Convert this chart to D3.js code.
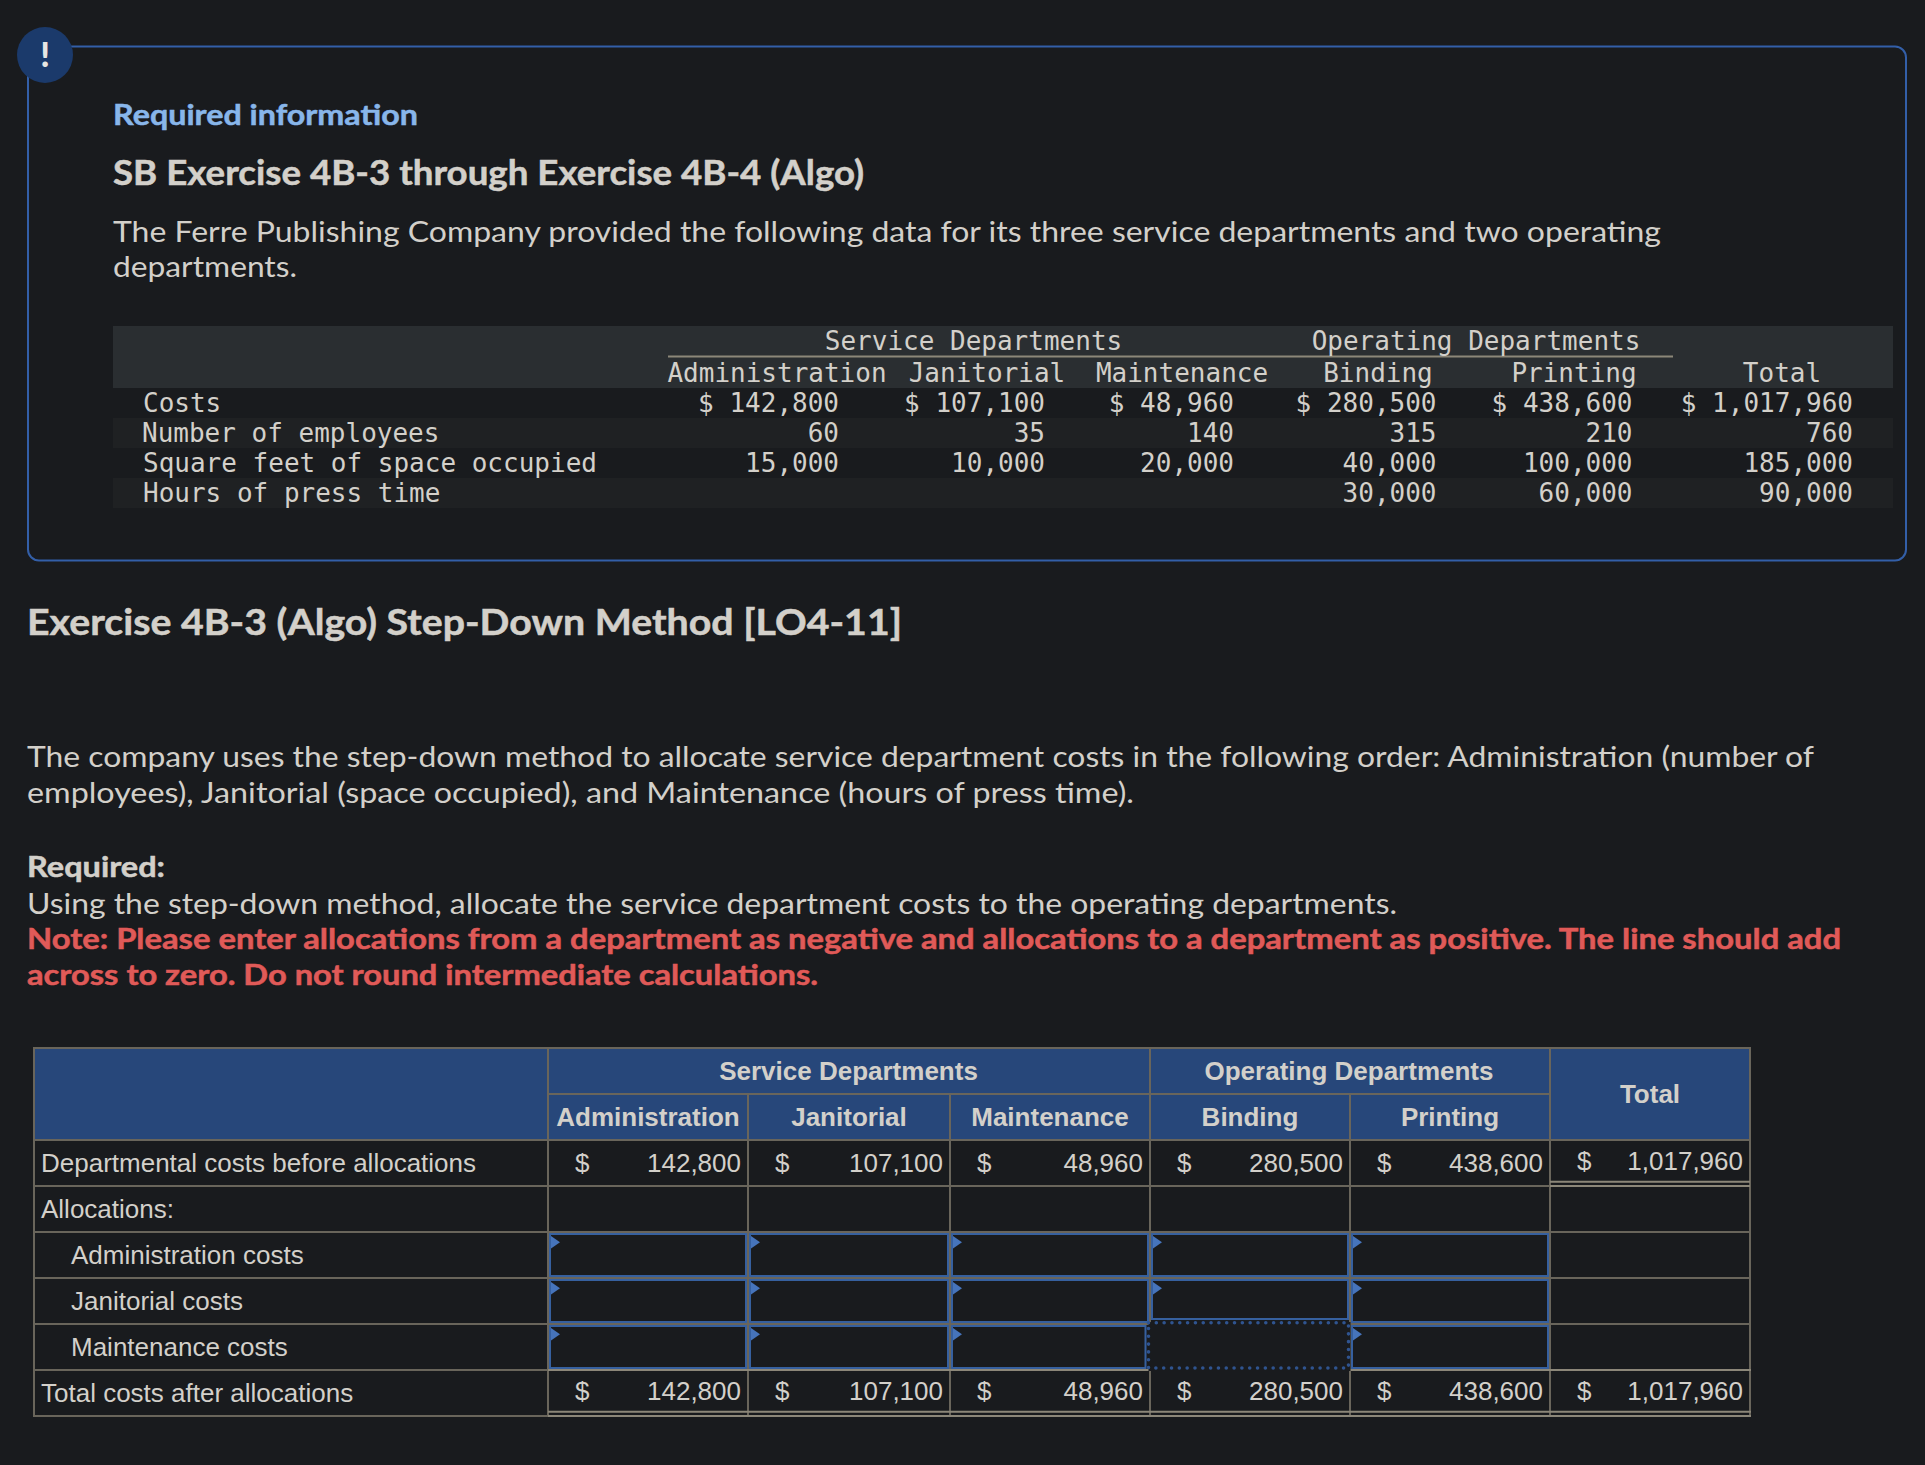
<!DOCTYPE html>
<html>
<head>
<meta charset="utf-8">
<script src="https://d3js.org/d3.v7.min.js"></script>
<style>
body { margin: 0; background: #191b1e; }
svg { display: block; }
</style>
</head>
<body>
<script>
// source table at the top of the page
var topRows = ["Costs", "Number of employees", "Square feet of space occupied", "Hours of press time"];
var topColumns = ["Administration", "Janitorial", "Maintenance", "Binding", "Printing", "Total"];
var costs = [142800, 107100, 48960, 280500, 438600, 1017960];
var employees = [60, 35, 140, 315, 210, 760];
var squareFeet = [15000, 10000, 20000, 40000, 100000, 185000];
var pressHours = [null, null, null, 30000, 60000, 90000];

// worksheet at the bottom of the page
var mainColumns = ["Administration", "Janitorial", "Maintenance", "Binding", "Printing", "Total"];
var mainRows = ["Departmental costs before allocations", "Allocations:", "Administration costs", "Janitorial costs", "Maintenance costs", "Total costs after allocations"];
var inputRows = ["Administration costs", "Janitorial costs", "Maintenance costs"];
var inputColumns = ["Administration", "Janitorial", "Maintenance", "Binding", "Printing"];
var costsAfter = [142800, 107100, 48960, 280500, 438600, 1017960];

var width = 1925, height = 1465;
var bg = "#191b1e", ink = "#d3d0ca", rule = "#69655b", ruleLight = "#8c8779", blue = "#36609f";
var sans = "Lato, sans-serif", mono = "'DejaVu Sans Mono', monospace", arial = "'Liberation Sans', Arial, sans-serif";
var fmt = d3.format(",");

var svg = d3.select("body").append("svg")
	.attr("width", width)
	.attr("height", height);

svg.append("rect").attr("width", width).attr("height", height).attr("fill", bg);

// fits a line of text to the width it has in the picture
function line(g, txt, x, y, size, fill, weight, font, w) {
	var t = g.append("text")
		.attr("x", x)
		.attr("y", y)
		.attr("fill", fill)
		.style("font-family", font)
		.style("font-size", size + "px")
		.style("font-weight", weight)
		.text(txt);
	if (w) t.attr("textLength", w).attr("lengthAdjust", "spacingAndGlyphs");
	// the original face is heavier than Lato Bold
	if (weight >= 700) t.attr("stroke", fill).attr("stroke-width", 0.5);
	return t;
}

// notice box
svg.append("rect")
	.attr("x", 28).attr("y", 46.5)
	.attr("width", 1878).attr("height", 514)
	.attr("rx", 11)
	.attr("fill", "none")
	.attr("stroke", "#335fa8")
	.attr("stroke-width", 2);
svg.append("circle").attr("cx", 45).attr("cy", 55).attr("r", 28).attr("fill", "#1b3a6b");
svg.append("text")
	.attr("x", 45).attr("y", 67)
	.attr("text-anchor", "middle")
	.attr("fill", "#e8e6e3")
	.style("font-family", sans)
	.style("font-size", "34px")
	.style("font-weight", 900)
	.text("!");

var copy = svg.append("g");
line(copy, "Required information", 113, 124.5, 29, "#88b6ea", 700, sans, 305);
line(copy, "SB Exercise 4B-3 through Exercise 4B-4 (Algo)", 113, 184.5, 34, ink, 700, sans, 751);
line(copy, "The Ferre Publishing Company provided the following data for its three service departments and two operating", 113, 242, 29, ink, 400, sans, 1548);
line(copy, "departments.", 113, 277, 29, ink, 400, sans, 184);
line(copy, "Exercise 4B-3 (Algo) Step-Down Method [LO4-11]", 27, 634.5, 37, ink, 700, sans, 875);
line(copy, "The company uses the step-down method to allocate service department costs in the following order: Administration (number of", 27, 767, 29, ink, 400, sans, 1787);
line(copy, "employees), Janitorial (space occupied), and Maintenance (hours of press time).", 27, 802.7, 29, ink, 400, sans, 1107);
line(copy, "Required:", 27, 877, 29, ink, 700, sans, 138);
line(copy, "Using the step-down method, allocate the service department costs to the operating departments.", 27, 914, 29, ink, 400, sans, 1370);
line(copy, "Note: Please enter allocations from a department as negative and allocations to a department as positive. The line should add", 27, 948.7, 29, "#e05a58", 700, sans, 1814);
line(copy, "across to zero. Do not round intermediate calculations.", 27, 984.7, 29, "#e05a58", 700, sans, 791);

// ---- top table ----
var topRight = d3.scaleOrdinal(topColumns, [839, 1045, 1234, 1436.5, 1632.5, 1853]);
var topCenter = d3.scaleOrdinal(topColumns, [777, 987, 1182, 1378, 1574, 1782]);
var topY = d3.scaleBand(topRows, [388, 508]);
var topValues = [costs, employees, squareFeet, pressHours];
var topLeft = [143, 142, 143, 143];

var topTable = svg.append("g").style("font-family", mono).style("font-size", "26px");

topTable.append("rect")
	.attr("x", 113).attr("y", 326)
	.attr("width", 1780).attr("height", 62)
	.attr("fill", "#2a2e31");
topTable.selectAll(".band")
	.data(topRows.filter(function(d, i) { return i % 2 == 1; }))
	.enter().append("rect")
	.attr("class", "band")
	.attr("x", 113)
	.attr("y", function(d) { return topY(d); })
	.attr("width", 1780)
	.attr("height", topY.bandwidth())
	.attr("fill", "#1f2123");
topTable.append("line")
	.attr("x1", 668).attr("x2", 1673)
	.attr("y1", 356.5).attr("y2", 356.5)
	.attr("stroke", ruleLight)
	.attr("stroke-width", 2);

topTable.selectAll(".group")
	.data([["Service Departments", 973.5], ["Operating Departments", 1476]])
	.enter().append("text")
	.attr("class", "group")
	.attr("x", function(d) { return d[1]; })
	.attr("y", 349.5)
	.attr("text-anchor", "middle")
	.attr("fill", ink)
	.text(function(d) { return d[0]; });
topTable.selectAll(".head")
	.data(topColumns)
	.enter().append("text")
	.attr("class", "head")
	.attr("x", function(d) { return topCenter(d); })
	.attr("y", 381.5)
	.attr("text-anchor", "middle")
	.attr("fill", ink)
	.text(function(d) { return d; });

topRows.forEach(function(row, r) {
	var base = topY(row) + 23.5;
	topTable.append("text")
		.attr("x", topLeft[r])
		.attr("y", base)
		.attr("fill", ink)
		.text(row);
	topTable.selectAll(".v" + r)
		.data(topValues[r])
		.enter().append("text")
		.attr("class", "v" + r)
		.attr("x", function(d, i) { return topRight(topColumns[i]); })
		.attr("y", base)
		.attr("text-anchor", "end")
		.attr("fill", ink)
		.text(function(d) {
			if (d === null) return "";
			return (r == 0 ? "$ " : "") + fmt(d);
		});
});

// ---- worksheet ----
var colX = d3.scaleOrdinal(mainColumns, [548, 748, 950, 1150, 1350, 1550]);
var colEnd = d3.scaleOrdinal(mainColumns, [748, 950, 1150, 1350, 1550, 1750]);
var rowY = d3.scaleBand(mainRows, [1140, 1416]);
var rowH = rowY.bandwidth();
var sheetLeft = 34, sheetTop = 1048, headMid = 1094, sheetBottom = 1416, sheetRight = 1750;

var sheet = svg.append("g").style("font-family", arial).style("font-size", "26px");

sheet.append("rect")
	.attr("x", sheetLeft).attr("y", sheetTop)
	.attr("width", sheetRight - sheetLeft).attr("height", rowY(mainRows[0]) - sheetTop)
	.attr("fill", "#27477a");

// horizontal rules
mainRows.forEach(function(row) {
	sheet.append("line")
		.attr("x1", sheetLeft).attr("x2", sheetRight)
		.attr("y1", rowY(row)).attr("y2", rowY(row))
		.attr("stroke", rule).attr("stroke-width", 2);
});
sheet.append("line")
	.attr("x1", sheetLeft - 1).attr("x2", sheetRight + 1)
	.attr("y1", sheetTop).attr("y2", sheetTop)
	.attr("stroke", rule).attr("stroke-width", 2);
sheet.append("line")
	.attr("x1", colX("Administration")).attr("x2", colX("Total"))
	.attr("y1", headMid).attr("y2", headMid)
	.attr("stroke", rule).attr("stroke-width", 2);
sheet.append("line")
	.attr("x1", sheetLeft - 1).attr("x2", colX("Administration"))
	.attr("y1", sheetBottom).attr("y2", sheetBottom)
	.attr("stroke", rule).attr("stroke-width", 2);

// vertical rules
var inner = [colX("Janitorial"), colX("Maintenance"), colX("Binding"), colX("Printing")];
[sheetLeft, colX("Administration"), colX("Total"), sheetRight].forEach(function(x) {
	sheet.append("line")
		.attr("x1", x).attr("x2", x)
		.attr("y1", sheetTop).attr("y2", sheetBottom)
		.attr("stroke", rule).attr("stroke-width", 2);
});
inner.forEach(function(x, i) {
	sheet.append("line")
		.attr("x1", x).attr("x2", x)
		.attr("y1", (i == 2 ? sheetTop : headMid)).attr("y2", sheetBottom)
		.attr("stroke", rule).attr("stroke-width", 2);
});

// double rules under totals
function doubleRule(x1, x2, y) {
	[y - 4.2, y].forEach(function(yy) {
		sheet.append("line")
			.attr("x1", x1).attr("x2", x2)
			.attr("y1", yy).attr("y2", yy)
			.attr("stroke", ruleLight).attr("stroke-width", 2);
	});
}
doubleRule(colX("Total"), sheetRight, rowY("Allocations:"));
doubleRule(colX("Administration"), sheetRight + 1, sheetBottom);
sheet.append("line")
	.attr("x1", colX("Administration")).attr("x2", sheetRight + 1)
	.attr("y1", rowY(mainRows[5])).attr("y2", rowY(mainRows[5]))
	.attr("stroke", ruleLight).attr("stroke-width", 2);

// input cells
var focusRow = "Maintenance costs", focusCol = "Binding";
inputRows.forEach(function(row) {
	inputColumns.forEach(function(col) {
		if (row == focusRow && col == focusCol) return;
		var x0 = colX(col) + 2, x1 = colEnd(col) - 2;
		var y0 = rowY(row) + 2, y1 = rowY(row) + rowH - 2;
		// the focused cell pushes its neighbours back a little
		if (row == "Janitorial costs" && col == focusCol) y1 -= 3;
		if (row == focusRow && col == "Maintenance") x1 -= 2.5;
		sheet.append("rect")
			.attr("x", x0).attr("y", y0)
			.attr("width", x1 - x0).attr("height", y1 - y0)
			.attr("fill", "none")
			.attr("stroke", blue)
			.attr("stroke-width", 2);
		sheet.append("path")
			.attr("d", d3.line()([[x0 + 1, y0 + 2], [x0 + 10, y0 + 8.2], [x0 + 1, y0 + 14.4]]) + "Z")
			.attr("fill", "#4674bb");
	});
});

// focused cell, dotted outline over the grid
sheet.append("rect")
	.attr("x", colX(focusCol) - 1.5).attr("y", rowY(focusRow) - 2)
	.attr("width", colEnd(focusCol) - colX(focusCol) + 2).attr("height", rowH + 3)
	.attr("fill", bg);
sheet.append("rect")
	.attr("x", colX(focusCol) - 1.5).attr("y", rowY(focusRow) - 1.3)
	.attr("width", colEnd(focusCol) - colX(focusCol)).attr("height", rowH - 0.7)
	.attr("fill", "none")
	.attr("stroke", "#2f5490")
	.attr("stroke-width", 3.6)
	.attr("stroke-linecap", "round")
	.attr("stroke-dasharray", "0 7.82");

// header labels
sheet.selectAll(".band-head")
	.data([["Service Departments", 848.5], ["Operating Departments", 1349]])
	.enter().append("text")
	.attr("class", "band-head")
	.attr("x", function(d) { return d[1]; })
	.attr("y", 1080)
	.attr("text-anchor", "middle")
	.attr("fill", ink)
	.style("font-weight", 700)
	.text(function(d) { return d[0]; });
sheet.selectAll(".col-head")
	.data(mainColumns)
	.enter().append("text")
	.attr("class", "col-head")
	.attr("x", function(d) { return (colX(d) + colEnd(d)) / 2; })
	.attr("y", function(d) { return d == "Total" ? 1103 : 1126; })
	.attr("text-anchor", "middle")
	.attr("fill", ink)
	.style("font-weight", 700)
	.text(function(d) { return d; });

// row labels
sheet.selectAll(".row-label")
	.data(mainRows)
	.enter().append("text")
	.attr("class", "row-label")
	.attr("x", function(d) { return inputRows.indexOf(d) >= 0 ? 71 : 41; })
	.attr("y", function(d) { return rowY(d) + 32; })
	.attr("fill", ink)
	.text(function(d) { return d; });

// money cells
function moneyRow(values, row) {
	values.forEach(function(v, i) {
		var col = mainColumns[i];
		var y = rowY(row) + (row == mainRows[0] && col != "Total" ? 32 : 30);
		sheet.append("text")
			.attr("x", colX(col) + 27)
			.attr("y", y)
			.attr("fill", ink)
			.text("$");
		sheet.append("text")
			.attr("x", colEnd(col) - 7)
			.attr("y", y)
			.attr("text-anchor", "end")
			.attr("fill", ink)
			.text(fmt(v));
	});
}
moneyRow(costs, mainRows[0]);
moneyRow(costsAfter, mainRows[5]);
</script>
</body>
</html>
